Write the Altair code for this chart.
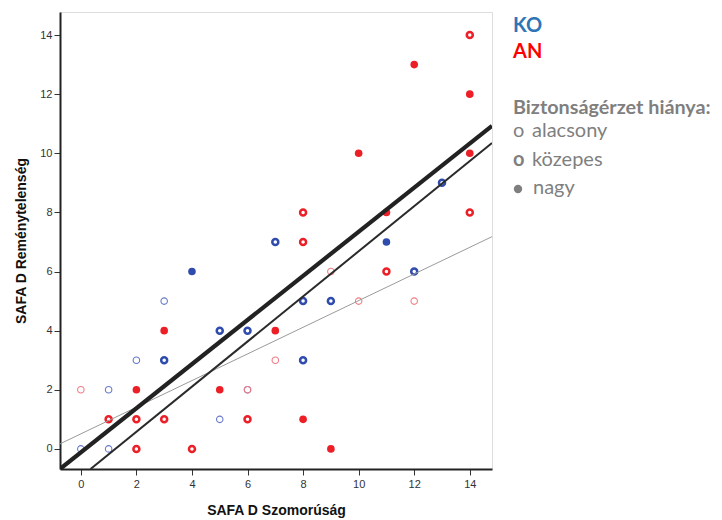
import altair as alt
import pandas as pd

# ---- data ----
ko_alacsony_x = [3, 2, 1, 6, 5, 0, 1]
ko_alacsony_y = [5, 3, 2, 2, 1, 0, 0]
ko_kozepes_x = [5, 6, 3, 8, 9, 12, 8, 7, 13]
ko_kozepes_y = [4, 4, 3, 5, 5, 6, 3, 7, 9]
ko_nagy_x = [4, 11]
ko_nagy_y = [6, 7]
an_alacsony_x = [0, 6, 7, 9, 10, 12]
an_alacsony_y = [2, 2, 3, 6, 5, 5]
an_kozepes_x = [1, 2, 3, 6, 2, 4, 11, 8, 8, 14, 14]
an_kozepes_y = [1, 1, 1, 1, 0, 0, 6, 8, 7, 8, 14]
an_nagy_x = [3, 7, 2, 5, 8, 9, 12, 14, 10, 14, 11]
an_nagy_y = [4, 4, 2, 2, 1, 0, 13, 12, 10, 10, 8]

# fit lines: endpoints
line_names = ["teljes", "vonal2", "vonal3"]
line_x0 = [-0.75, 0.35, -0.75]
line_y0 = [-0.68, -0.68, 0.17]
line_x1 = [14.8, 14.8, 14.8]
line_y1 = [10.93, 10.35, 7.18]

x_ticks = [0, 2, 4, 6, 8, 10, 12, 14]
y_ticks = [0, 2, 4, 6, 8, 10, 12, 14]

groups = ["KO", "AN"]

rows = []
for g, lvl, xs_, ys_ in [
    ("KO", "alacsony", ko_alacsony_x, ko_alacsony_y),
    ("KO", "közepes", ko_kozepes_x, ko_kozepes_y),
    ("KO", "nagy", ko_nagy_x, ko_nagy_y),
    ("AN", "alacsony", an_alacsony_x, an_alacsony_y),
    ("AN", "közepes", an_kozepes_x, an_kozepes_y),
    ("AN", "nagy", an_nagy_x, an_nagy_y),
]:
    for a, b in zip(xs_, ys_):
        rows.append({"csoport": g, "szint": lvl, "x": a, "y": b})
pts = pd.DataFrame(rows)

lines = pd.DataFrame({"nev": line_names, "x0": line_x0, "y0": line_y0,
                      "x1": line_x1, "y1": line_y1})

W, H = 432, 457
xs = alt.Scale(domain=[-0.75, 14.8], nice=False, zero=False)
ys = alt.Scale(domain=[-0.68, 14.78], nice=False, zero=False)

color_dark = alt.Scale(domain=groups, range=["#2f4cad", "#ec1f27"])
color_light = alt.Scale(domain=groups, range=["#6679cc", "#f27c82"])

x_axis = alt.Axis(values=x_ticks, grid=False, title="SAFA D Szomorúság",
                  labelFont="Liberation Sans", labelFontSize=11, labelColor="#333",
                  titleFont="Liberation Sans", titleFontSize=14, titleFontWeight="bold",
                  titleColor="#111", titlePadding=14, tickSize=6, tickColor="#333",
                  domainColor="#222", domainWidth=2, labelPadding=3)
y_axis = alt.Axis(values=y_ticks, grid=False, title="SAFA D Reménytelenség",
                  labelFont="Liberation Sans", labelFontSize=11, labelColor="#333",
                  titleFont="Liberation Sans", titleFontSize=14, titleFontWeight="bold",
                  titleColor="#111", titlePadding=11, tickSize=6, tickColor="#333",
                  domainColor="#222", domainWidth=2, labelPadding=2)

base = alt.Chart(pts)

low = base.transform_filter(alt.datum.szint == "alacsony").mark_point(
    shape="circle", filled=False, strokeWidth=1.1, size=42, opacity=1
).encode(
    x=alt.X("x:Q", scale=xs, axis=x_axis),
    y=alt.Y("y:Q", scale=ys, axis=y_axis),
    color=alt.Color("csoport:N", scale=color_light, legend=None),
)
mid = base.transform_filter(alt.datum.szint == "közepes").mark_point(
    shape="circle", filled=False, strokeWidth=2.5, size=36, opacity=1
).encode(
    x=alt.X("x:Q", scale=xs),
    y=alt.Y("y:Q", scale=ys),
    color=alt.Color("csoport:N", scale=color_dark, legend=None),
)
high = base.transform_filter(alt.datum.szint == "nagy").mark_circle(
    size=58, opacity=1
).encode(
    x=alt.X("x:Q", scale=xs),
    y=alt.Y("y:Q", scale=ys),
    color=alt.Color("csoport:N", scale=color_dark, legend=None),
)

lb = alt.Chart(lines)
def fitline(name, width, color):
    return lb.transform_filter(alt.datum.nev == name).mark_rule(
        strokeWidth=width, color=color, clip=True
    ).encode(x=alt.X("x0:Q", scale=xs), y=alt.Y("y0:Q", scale=ys),
             x2="x1:Q", y2="y1:Q")

l1 = fitline("teljes", 4.2, "#222222")
l2 = fitline("vonal2", 2.0, "#2a2a2a")
l3 = fitline("vonal3", 1.0, "#9a9a9a")

def txt(t, x, y, size, color, weight="normal"):
    return alt.Chart(pd.DataFrame({"t": [t]})).mark_text(
        align="left", baseline="alphabetic", font="Lato", fontSize=size,
        fontWeight=weight, color=color
    ).encode(text="t:N", x=alt.value(x), y=alt.value(y))

LX = 453
legend = [
    txt("KO", LX, 20, 20, "#2e75b6", "bold"),
    txt("AN", LX, 46, 20, "#ff0000", "bold"),
    txt("Biztonságérzet hiánya:", LX, 102, 19.8, "#7f7f7f", "bold"),
    txt("o", LX, 125, 20, "#7f7f7f"),
    txt("alacsony", LX + 19, 125, 20, "#7f7f7f"),
    txt("o", LX, 154, 20, "#7f7f7f", "bold"),
    txt("közepes", LX + 19, 154, 20, "#7f7f7f"),
    alt.Chart(pd.DataFrame({"t": ["•"]})).mark_circle(size=70, color="#7f7f7f", opacity=1)
       .encode(x=alt.value(LX + 5), y=alt.value(177)),
    txt("nagy", LX + 20, 182, 20, "#7f7f7f"),
]

chart = alt.layer(low, mid, high, l3, l2, l1, *legend).resolve_scale(
    color="independent"
).properties(
    width=W, height=H,
    autosize=alt.AutoSizeParams(type="none"),
    padding={"left": 52, "top": 4, "right": 222, "bottom": 50},
).configure_view(stroke="#8a8a8a", strokeWidth=2).configure(background="white")

chart.save("out.html", embed_options={"renderer": "svg", "actions": False})
